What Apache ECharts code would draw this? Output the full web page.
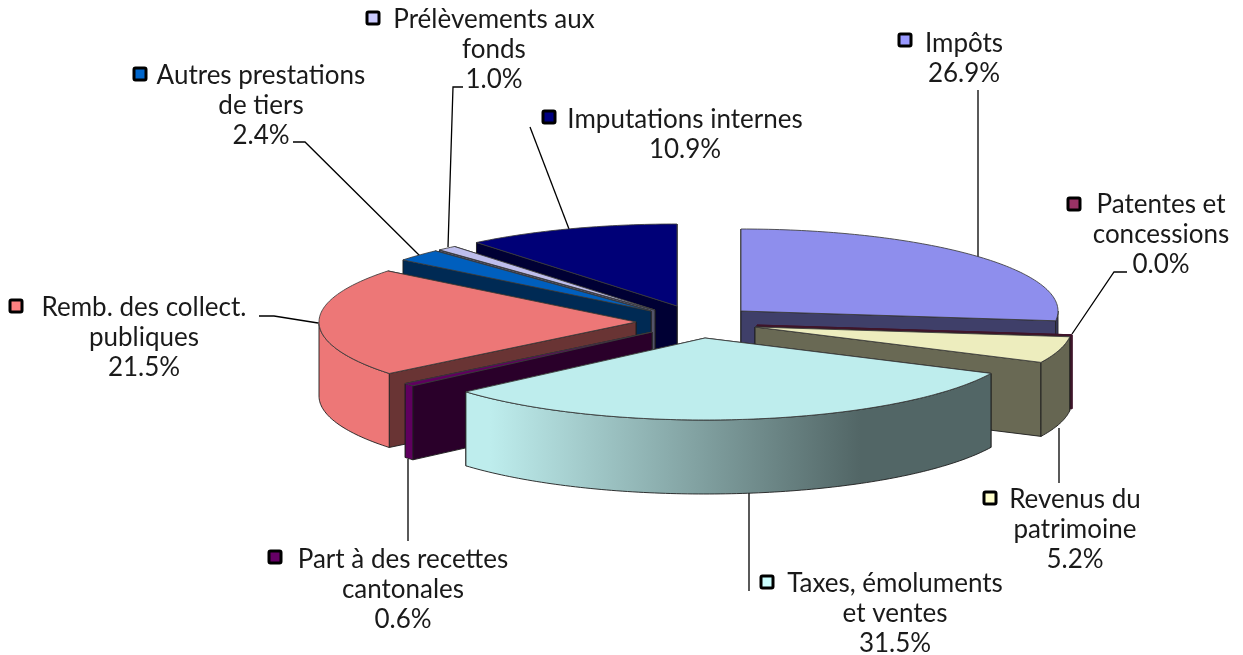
<!DOCTYPE html>
<html><head><meta charset="utf-8">
<style>html,body{margin:0;padding:0;background:#fff}#c{width:1243px;height:655px}</style>
<script src="https://cdn.jsdelivr.net/npm/echarts@6/dist/echarts.min.js"></script>
</head><body><div id="c"></div>
<script>
const categories = ['Impôts','Patentes et\nconcessions','Revenus du\npatrimoine','Taxes, émoluments\net ventes','Part à des recettes\ncantonales','Remb. des collect.\npubliques','Autres prestations\nde tiers','Prélèvements aux\nfonds','Imputations internes'];
const shares = [26.9,0.0,5.2,31.5,0.6,21.5,2.4,1.0,10.9];
const colors = ['#9999FF','#993366','#FFFFCC','#CCFFFF','#660066','#FF8080','#0066CC','#CCCCFF','#000080'];

// layout only
const paintOrder = [8,7,6,0,1,2,5,4,3];
const apex = [[741,311],[757,325],[755,327],[705,338],[652,332],[636,322],[651,311],[655,310],[677,306]];
const RX = 317, RY = 82, DEPTH = 74;
const labelCenter = [[964,59],[1161,235],[1075,530],[895,614],[403,590],[144,338],[261,106],[494,50],[685,135]];
const markerPos = [[905,40],[1074,204],[990,498],[767,582],[275,557],[16,306],[140,74],[373,18],[549,117]];
const leaders = [
  [[978,90],[978,258]],
  [[1127,272],[1114,272],[1072,334]],
  [[1059,428],[1059,483]],
  [[749,492],[749,591]],
  [[408,459],[408,541]],
  [[259,316],[274,316],[318,323]],
  [[293,142],[305,142],[420,256]],
  [[463,87],[453,87],[448,247]],
  [[530,127],[569,229]]
];
const FONT = 'Lato';

const total = shares.reduce((a,b)=>a+b,0);
const startAngles = []; let acc = 0;
shares.forEach(v=>{ startAngles.push(acc/total*360); acc+=v; });

function shade(hex,f){
  const n=parseInt(hex.slice(1),16);
  const c=[(n>>16)&255,(n>>8)&255,n&255].map(x=>Math.round(x*f));
  return 'rgb('+c.join(',')+')';
}
function pt(i,deg,dy){
  const a=deg*Math.PI/180;
  return [apex[i][0]+RX*Math.sin(a), apex[i][1]-RY*Math.cos(a)+(dy||0)];
}
function arc(i,a0,a1,dy){
  const pts=[], n=Math.max(2,Math.ceil(Math.abs(a1-a0)));
  for(let k=0;k<=n;k++) pts.push(pt(i,a0+(a1-a0)*k/n,dy));
  return pts;
}
function renderSlice(params,api){
  const i=api.value(1), v=api.value(0);
  const a0=startAngles[i], a1=a0+v/total*360;
  const base=colors[i];
  const isZero = v===0;
  const edge = isZero ? shade(base,0.41) : 'rgba(30,30,30,0.9)';
  const inner=shade(base,0.41), c=apex[i];
  const children=[];
  const wall=a=>{
    const p=pt(i,a), q=pt(i,a,DEPTH);
    children.push({type:'polygon',shape:{points:[c,p,q,[c[0],c[1]+DEPTH]]},
      style:{fill:inner,stroke:edge,lineWidth:1}});
  };
  // the wall further back is painted first
  if(pt(i,a0)[1]<pt(i,a1)[1]){ wall(a0); wall(a1); } else { wall(a1); wall(a0); }
  const s=Math.max(a0,90), e=Math.min(a1,270);
  if(isZero){
    const p=pt(i,a0);
    children.push({type:'line',shape:{x1:p[0],y1:p[1],x2:p[0],y2:p[1]+DEPTH},style:{stroke:edge,lineWidth:2}});
  } else if(e>s){
    const top=arc(i,s,e,0), bot=arc(i,e,s,DEPTH);
    children.push({type:'polygon',shape:{points:top.concat(bot)},
      style:{fill:new echarts.graphic.LinearGradient(490,0,860,0,
        [{offset:0,color:shade(base,0.93)},{offset:1,color:shade(base,0.4)}],true),
        stroke:edge,lineWidth:1}});
  }
  if(!isZero){
    children.push({type:'polygon',shape:{points:[c].concat(arc(i,a0,a1,0))},
      style:{fill:shade(base,0.93),stroke:'rgba(60,60,60,0.85)',lineWidth:1}});
  }
  return {type:'group',children};
}
function renderLabel(params,api){
  const i=api.value(1), v=api.value(0);
  const m=markerPos[i], t=labelCenter[i];
  return {type:'group',children:[
    {type:'polyline',shape:{points:leaders[i]},style:{stroke:'#000',lineWidth:1.3,fill:null}},
    {type:'rect',shape:{x:m[0]-6,y:m[1]-6,width:12,height:12,r:1.5},style:{fill:colors[i],stroke:'#000',lineWidth:3}},
    {type:'text',x:t[0],y:t[1],style:{text:categories[i]+'\n'+v.toFixed(1)+'%',
      font:'26px '+FONT,fill:'#1a1a1a',align:'center',verticalAlign:'middle',lineHeight:30}}
  ]};
}
const chart=echarts.init(document.getElementById('c'),null,{renderer:'canvas'});
chart.setOption({
  animation:false,
  backgroundColor:'#fff',
  series:[
    {type:'custom',coordinateSystem:'none',silent:true,z:2,renderItem:renderSlice,
      data:paintOrder.map(i=>[shares[i],i])},
    {type:'custom',coordinateSystem:'none',silent:true,z:1,renderItem:renderLabel,
      data:shares.map((v,i)=>[v,i])}
  ]
});
</script></body></html>
